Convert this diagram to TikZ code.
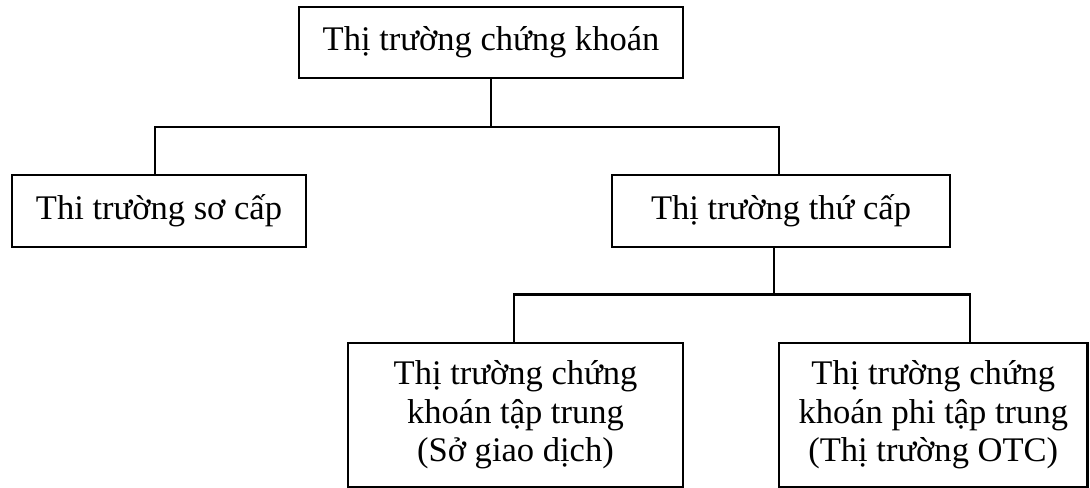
\documentclass[tikz,border=0pt]{standalone}
\usepackage{fontspec}
\setmainfont{Liberation Serif}
\begin{document}
\begin{tikzpicture}[x=0.75pt,y=-0.75pt,
  box/.style={draw, line width=2pt, inner sep=0pt, align=center,
    font=\fontsize{25.9}{29}\selectfont},
  conn/.style={line width=2pt}]
\useasboundingbox (0,0) rectangle (1090,488);
\node[box, minimum width=288pt, minimum height=53.25pt] (top) at (491,42.5) {Thị trường chứng khoán};
\node[box, minimum width=220.5pt, minimum height=54pt] (left) at (159,211) {Thi trường sơ cấp};
\node[box, minimum width=253.5pt, minimum height=54pt] (right) at (781,211) {Thị trường thứ cấp};
\node[box, minimum width=251.25pt, minimum height=108pt] (bl) at (515.5,415) {Thị trường chứng\\khoán tập trung\\(Sở giao dịch)};
\node[box, minimum width=231.4pt, minimum height=108pt] (br) at (933.25,415) {Thị trường chứng\\khoán phi tập trung\\(Thị trường OTC)};
\coordinate (h1l) at (155,127);
\coordinate (h1r) at (779,127);
\coordinate (h2l) at (514,294.5);
\coordinate (h2r) at (970,294.5);
\coordinate (v2) at (774,294.5);
\draw[conn] (top.south) -- (top.south |- h1l);
\draw[conn] (left.north -| h1l) -- (h1l) -- (h1r) -- (right.north -| h1r);
\draw[conn] (right.south -| v2) -- (v2);
\draw[conn] (bl.north -| h2l) -- (h2l) -- (h2r) -- (br.north -| h2r);
\end{tikzpicture}
\end{document}
